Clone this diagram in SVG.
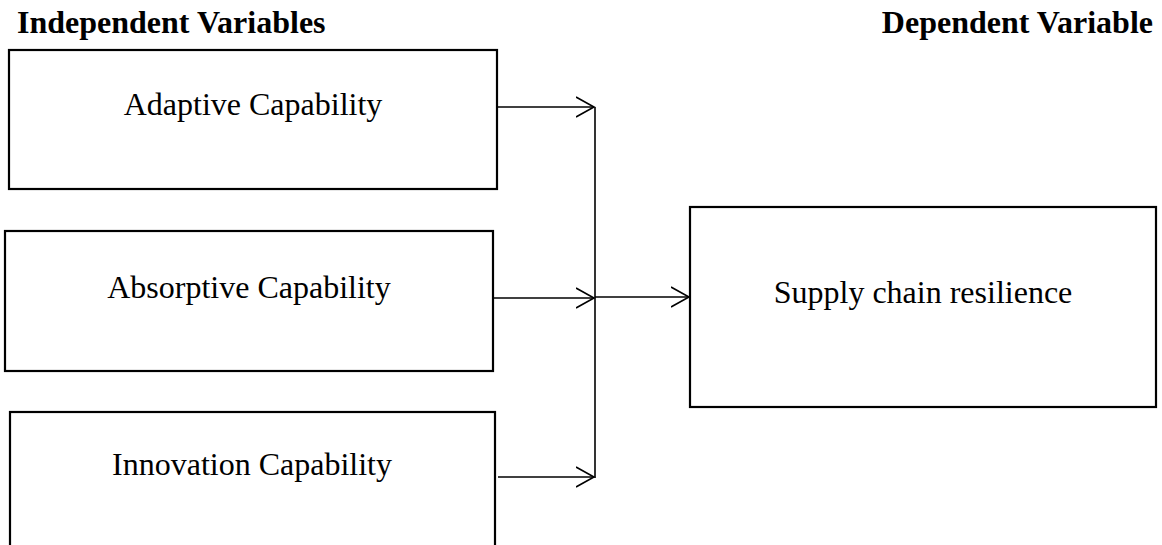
<svg xmlns="http://www.w3.org/2000/svg" width="1162" height="545" viewBox="0 0 1162 545">
<style>
.box{fill:#fff;stroke:#000;stroke-width:2.2}
.lbl{font-family:"Liberation Serif","Times New Roman",serif;font-size:32px;fill:#000;text-anchor:middle}
.hd{font-family:"Liberation Serif","Times New Roman",serif;font-size:32px;font-weight:bold;fill:#000}
.con{stroke:#000;stroke-width:1.6;fill:none}
</style>
<defs>
<marker id="arr" markerUnits="userSpaceOnUse" markerWidth="22" markerHeight="24" refX="18" refY="11" orient="auto">
<path d="M0,1 L18,11 L0,21" fill="none" stroke="#000" stroke-width="1.6"/>
</marker>
</defs>
<rect width="1162" height="545" fill="#fff"/>
<text class="hd" x="17" y="33">Independent Variables</text>
<text class="hd" x="1153" y="33" text-anchor="end">Dependent Variable</text>
<g id="adaptive">
<rect class="box" x="9" y="50" width="488" height="139"/>
<text class="lbl" x="253" y="115">Adaptive Capability</text>
</g>
<g id="absorptive">
<rect class="box" x="5" y="231" width="488" height="140"/>
<text class="lbl" x="249" y="298">Absorptive Capability</text>
</g>
<g id="innovation">
<rect class="box" x="10" y="412" width="485" height="150"/>
<text class="lbl" x="252" y="475">Innovation Capability</text>
</g>
<g id="resilience">
<rect class="box" x="690" y="207" width="466" height="200"/>
<text class="lbl" x="923" y="303">Supply chain resilience</text>
</g>
<g id="connectors">
<line class="con" x1="497" y1="107" x2="594" y2="107" marker-end="url(#arr)"/>
<line class="con" x1="493" y1="298" x2="594" y2="298" marker-end="url(#arr)"/>
<line class="con" x1="498" y1="477" x2="594" y2="477" marker-end="url(#arr)"/>
<line class="con" x1="595" y1="107" x2="595" y2="478"/>
<line class="con" x1="595" y1="297" x2="689" y2="297" marker-end="url(#arr)"/>
</g>
</svg>
